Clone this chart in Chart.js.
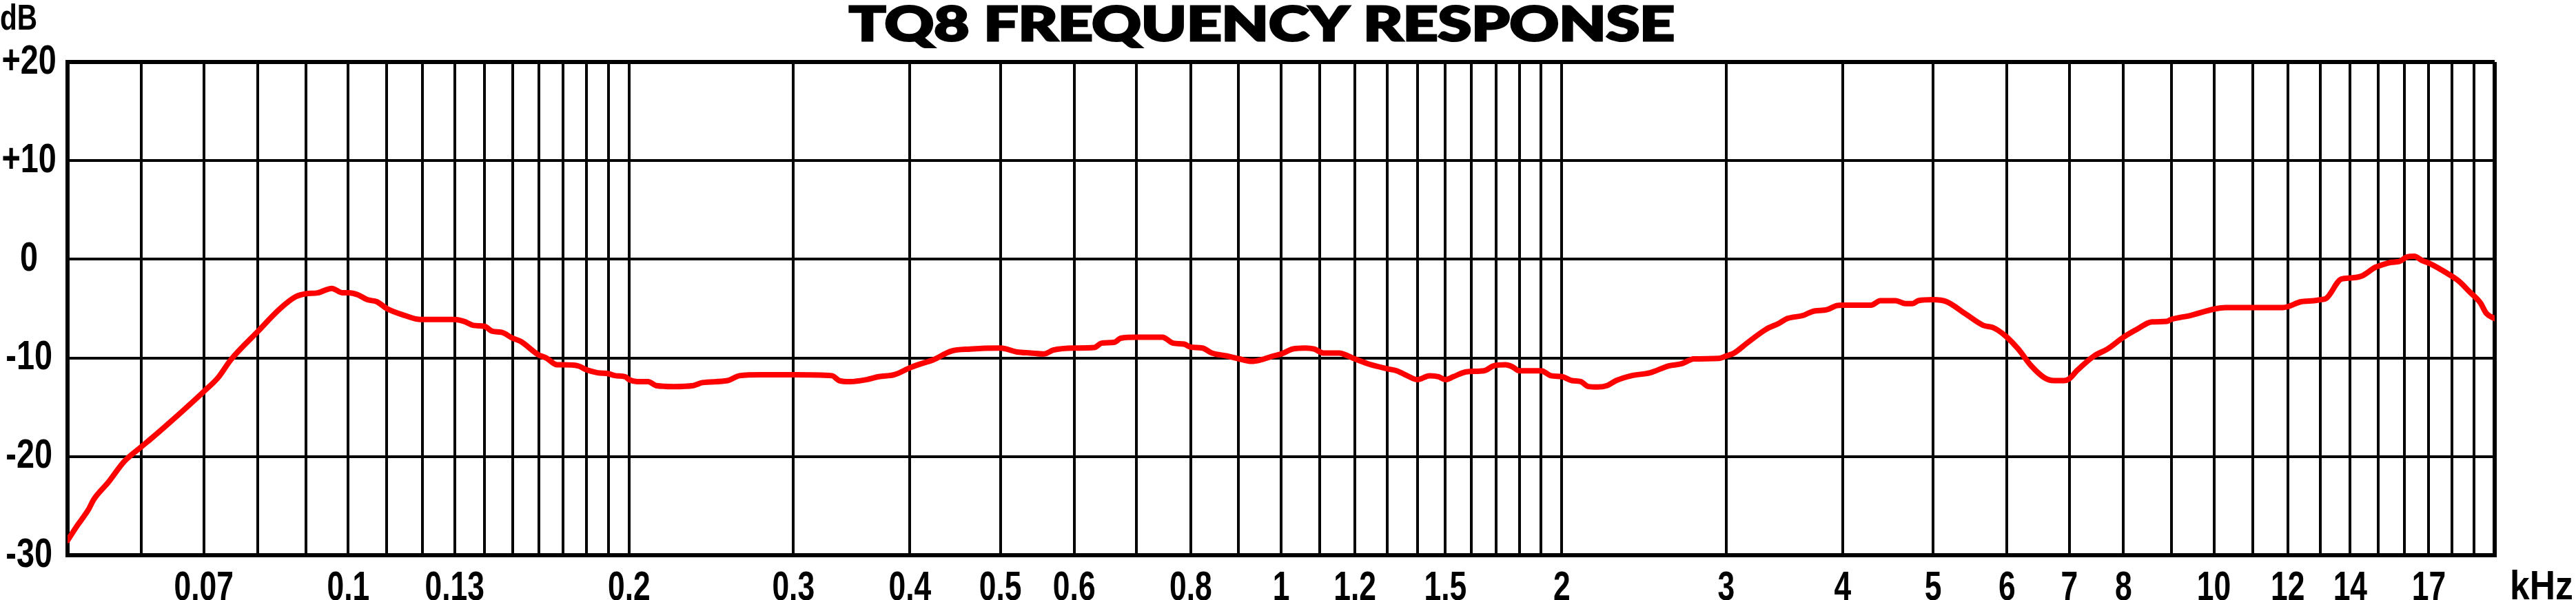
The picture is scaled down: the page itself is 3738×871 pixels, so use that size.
<!DOCTYPE html>
<html>
<head>
<meta charset="utf-8">
<script src="https://cdn.jsdelivr.net/npm/chart.js@4.4.1/dist/chart.umd.min.js"></script>
<style>
  html, body { margin: 0; padding: 0; background: #ffffff; }
  canvas { display: block; }
</style>
</head>
<body>
<canvas id="c" width="3738" height="871"></canvas>
<script>
// ---------- text ----------
const TITLE = 'TQ8 FREQUENCY RESPONSE';
const Y_UNIT = 'dB';
const X_UNIT = 'kHz';

// ---------- data ----------
const FREQ_KHZ = [
  0.0500, 0.0513, 0.0527, 0.0533, 0.0553, 0.0575, 0.0600, 0.0616, 0.0646, 0.0700,
  0.0725, 0.0748, 0.0800, 0.0845, 0.0878, 0.0900, 0.0927, 0.0960, 0.0986, 0.1000,
  0.1024, 0.1048, 0.1073, 0.1100, 0.1150, 0.1195, 0.1300, 0.1331, 0.1362, 0.1400,
  0.1427, 0.1460, 0.1500, 0.1529, 0.1600, 0.1630, 0.1675, 0.1700, 0.1763, 0.1800,
  0.1850, 0.1900, 0.1933, 0.1980, 0.2000, 0.2040, 0.2096, 0.2137, 0.2233, 0.2344,
  0.2397, 0.2549, 0.2627, 0.2772, 0.3000, 0.3300, 0.3360, 0.3450, 0.3594, 0.3705,
  0.3849, 0.4000, 0.4077, 0.4234, 0.4432, 0.4641, 0.5000, 0.5213, 0.5390, 0.5568,
  0.5700, 0.6000, 0.6303, 0.6420, 0.6633, 0.6730, 0.7000, 0.7459, 0.7663, 0.7870,
  0.8000, 0.8235, 0.8430, 0.8747, 0.9020, 0.9300, 0.9510, 0.9810, 1.0000, 1.0290,
  1.0610, 1.0850, 1.1100, 1.1540, 1.1800, 1.2000, 1.2400, 1.3000, 1.3300, 1.3650,
  1.4000, 1.4430, 1.4750, 1.5000, 1.5300, 1.5800, 1.6500, 1.6900, 1.7400, 1.7700,
  1.8000, 1.9000, 1.9460, 2.0000, 2.0500, 2.0950, 2.1350, 2.1830, 2.2360, 2.2860,
  2.3750, 2.4860, 2.6040, 2.6850, 2.7700, 2.9480, 3.0000, 3.0600, 3.1580, 3.3100,
  3.4160, 3.4900, 3.6250, 3.7100, 3.8500, 3.9400, 4.0000, 4.2900, 4.3900, 4.5600,
  4.6700, 4.7500, 4.8200, 5.0000, 5.1700, 5.4100, 5.6600, 5.7900, 5.8700, 6.0000,
  6.1700, 6.3700, 6.5800, 6.7400, 6.9100, 7.0000, 7.1300, 7.4400, 7.6900, 8.0000,
  8.2700, 8.5800, 8.9000, 9.0000, 9.4300, 10.000, 10.290, 11.000, 11.850, 12.000,
  12.400, 12.800, 13.000, 13.200, 13.700, 14.000, 14.400, 14.900, 15.000, 15.500,
  15.800, 16.100, 16.400, 16.700, 17.100, 17.700, 18.300, 18.800, 19.300, 19.600,
  20.000
];
const RESPONSE_DB = [
  -28.5, -26.9, -25.3, -24.4, -22.6, -20.5, -19.0, -18.1, -16.4, -13.4,
  -12.0, -10.2, -7.3, -5.0, -3.8, -3.5, -3.4, -2.95, -3.4, -3.4,
  -3.6, -4.1, -4.3, -5.0, -5.7, -6.1, -6.1, -6.3, -6.7, -6.8,
  -7.3, -7.4, -8.0, -8.3, -9.7, -10.0, -10.7, -10.7, -10.8, -11.2,
  -11.5, -11.6, -11.8, -11.9, -12.2, -12.4, -12.4, -12.8, -12.9, -12.8,
  -12.5, -12.3, -11.8, -11.7, -11.7, -11.8, -12.3, -12.4, -12.2, -11.9,
  -11.7, -11.0, -10.7, -10.2, -9.3, -9.1, -9.0, -9.4, -9.5, -9.6,
  -9.2, -9.0, -8.95, -8.5, -8.4, -8.0, -7.9, -7.9, -8.5, -8.6,
  -8.9, -9.0, -9.5, -9.8, -10.1, -10.35, -10.2, -9.8, -9.6, -9.1,
  -9.0, -9.1, -9.5, -9.5, -9.8, -10.1, -10.6, -11.1, -11.3, -11.8,
  -12.2, -11.8, -11.9, -12.2, -11.9, -11.4, -11.3, -10.8, -10.7, -10.9,
  -11.3, -11.3, -11.8, -11.9, -12.3, -12.4, -12.9, -12.95, -12.8, -12.3,
  -11.8, -11.5, -10.8, -10.6, -10.1, -10.05, -9.8, -9.5, -8.5, -7.1,
  -6.5, -6.0, -5.7, -5.3, -5.1, -4.7, -4.65, -4.65, -4.2, -4.2,
  -4.5, -4.5, -4.2, -4.1, -4.3, -5.5, -6.7, -6.9, -7.2, -7.9,
  -9.1, -10.8, -12.0, -12.3, -12.3, -12.1, -11.3, -9.8, -9.1, -7.9,
  -7.1, -6.35, -6.3, -6.1, -5.7, -5.05, -4.9, -4.9, -4.9, -4.8,
  -4.3, -4.2, -4.1, -3.95, -2.0, -1.9, -1.7, -0.8, -0.7, -0.3,
  -0.23, 0.23, 0.3, -0.1, -0.5, -1.3, -2.2, -3.3, -4.4, -5.5,
  -6.0
];

// ---------- axes ----------
const X_MIN_KHZ = 0.05;
const X_MAX_KHZ = 20;
const GRID_KHZ = [
  0.05, 0.06, 0.07, 0.08, 0.09,
  0.1, 0.11, 0.12, 0.13, 0.14, 0.15, 0.16, 0.17, 0.18, 0.19,
  0.2, 0.3, 0.4, 0.5, 0.6, 0.7, 0.8, 0.9,
  1, 1.1, 1.2, 1.3, 1.4, 1.5, 1.6, 1.7, 1.8, 1.9,
  2, 3, 4, 5, 6, 7, 8, 9,
  10, 11, 12, 13, 14, 15, 16, 17, 18, 19, 20
];
const X_TICK_LABELS = ['0.07', '0.1', '0.13', '0.2', '0.3', '0.4', '0.5', '0.6', '0.8',
  '1', '1.2', '1.5', '2', '3', '4', '5', '6', '7', '8', '10', '12', '14', '17'];
const Y_TICKS = [-30, -20, -10, 0, 10, 20];

// ---------- styling ----------
const LABEL_FAMILY = "'Liberation Sans', Arial, sans-serif";
const SQUEEZE = { x: 0.74, y: 0.78 };   // narrow (condensed) look of the reference lettering

function xLabel(value) {
  for (const l of X_TICK_LABELS) {
    if (Math.abs(parseFloat(l) - value) < value * 1e-6) return l;
  }
  return '';
}

const edgeWidth = (ctx) => {
  const n = ctx.scale.ticks.length;
  return (ctx.index === 0 || ctx.index === n - 1) ? 6 : 4;
};

// draw text horizontally condensed (still real text through fillText)
function withSqueeze(ctx, k, fn) {
  const orig = CanvasRenderingContext2D.prototype.fillText;
  ctx.fillText = function (text, x, y, maxWidth) {
    const w = this.measureText(text).width * k;
    return orig.call(this, text, x, y, maxWidth === undefined ? w : Math.min(maxWidth, w));
  };
  try { fn(); } finally { delete ctx.fillText; }
}

const condensedLabels = {
  id: 'condensedLabels',
  beforeDraw(chart) {
    for (const id of ['x', 'y']) {
      const s = chart.scales[id];
      if (!s || s._condensed) continue;
      const orig = s.drawLabels;
      s.drawLabels = function (area) {
        withSqueeze(this.ctx, SQUEEZE[id], () => orig.call(this, area));
      };
      s._condensed = true;
    }
  }
};

const annotations = {
  id: 'annotations',
  beforeDraw(chart) {
    const c = chart.ctx;
    c.save();
    c.fillStyle = '#ffffff';
    c.fillRect(0, 0, chart.width, chart.height);
    c.restore();
  },
  afterDraw(chart) {
    const c = chart.ctx;
    const area = chart.chartArea;
    // title (heavy, extended face)
    c.save();
    c.fillStyle = '#000';
    c.strokeStyle = '#000';
    c.lineWidth = 3;
    c.lineJoin = 'miter';
    c.font = "900 68px Lato, 'DejaVu Sans', sans-serif";
    const w = c.measureText(TITLE).width;
    c.translate(1831, 59);
    c.scale(1198 / w, 1);
    c.textAlign = 'center';
    c.textBaseline = 'alphabetic';
    c.fillText(TITLE, 0, 0);
    c.strokeText(TITLE, 0, 0);
    c.restore();

    c.save();
    c.fillStyle = '#000';
    c.textAlign = 'left';
    c.textBaseline = 'alphabetic';
    c.font = "bold 52px " + LABEL_FAMILY;
    withSqueeze(c, 0.78, () => c.fillText(Y_UNIT, 0, 43));
    c.font = "bold 60px " + LABEL_FAMILY;
    withSqueeze(c, 0.86, () => c.fillText(X_UNIT, area.right + 22, 870));
    c.restore();
  }
};

new Chart(document.getElementById('c'), {
  type: 'line',
  data: {
    datasets: [{
      data: FREQ_KHZ.map((f, i) => ({ x: f, y: RESPONSE_DB[i] })),
      borderColor: '#ff0000',
      borderWidth: 8,
      pointRadius: 0,
      fill: false,
      cubicInterpolationMode: 'monotone',
      borderCapStyle: 'round',
      borderJoinStyle: 'round'
    }]
  },
  options: {
    responsive: false,
    animation: false,
    devicePixelRatio: 1,
    layout: { padding: { top: 90, right: 118, bottom: 0, left: 0 } },
    plugins: {
      legend: { display: false },
      title: { display: false },
      tooltip: { enabled: false }
    },
    scales: {
      x: {
        type: 'logarithmic',
        min: X_MIN_KHZ,
        max: X_MAX_KHZ,
        afterBuildTicks: (s) => { s.ticks = GRID_KHZ.map(v => ({ value: v })); },
        afterFit: (s) => { s.height = 65; },
        grid: { color: '#000', lineWidth: edgeWidth, drawTicks: false },
        border: { display: true, color: '#000', width: 6 },
        ticks: {
          autoSkip: false, maxRotation: 0, minRotation: 0, padding: 12,
          color: '#000',
          font: { family: LABEL_FAMILY, size: 60, weight: 'bold' },
          callback: (v) => xLabel(v)
        }
      },
      y: {
        min: Y_TICKS[0],
        max: Y_TICKS[Y_TICKS.length - 1],
        afterBuildTicks: (s) => { s.ticks = Y_TICKS.map(v => ({ value: v })); },
        afterFit: (s) => { s.width = 98; },
        grid: { color: '#000', lineWidth: edgeWidth, drawTicks: false },
        border: { display: true, color: '#000', width: 6 },
        ticks: {
          crossAlign: 'center', padding: 5,
          color: '#000',
          font: { family: LABEL_FAMILY, size: 60, weight: 'bold' },
          callback: (v) => (v > 0 ? '+' + v : String(v))
        }
      }
    }
  },
  plugins: [condensedLabels, annotations]
});
</script>
</body>
</html>
